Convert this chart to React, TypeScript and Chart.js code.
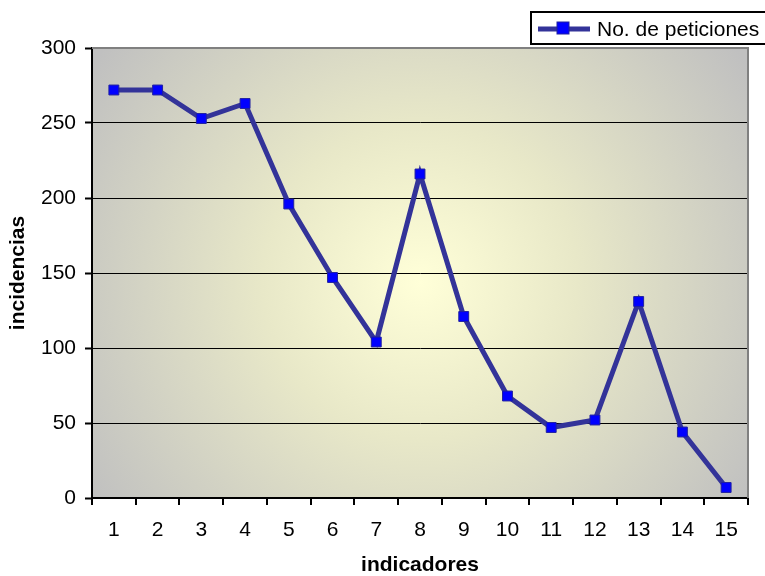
import React, { useEffect, useRef } from "react";
import { Chart, registerables } from "chart.js";

Chart.register(...registerables);

const categories = ["1", "2", "3", "4", "5", "6", "7", "8", "9", "10", "11", "12", "13", "14", "15"];
const peticiones = [272, 272, 253, 263, 196, 147, 104, 216, 121, 68, 47, 52, 131, 44, 7];
const seriesLabel = "No. de peticiones";
const yTitle = "incidencias";
const xTitle = "indicadores";

const bgPlugin = {
  id: "bgPlugin",
  beforeDraw(chart: any) {
    const { ctx, chartArea } = chart;
    const { left, top, right, bottom } = chartArea;
    const cx = left + (right - left) * 0.5;
    const cy = top + (bottom - top) * 0.52;
    const r = Math.max(right - left, bottom - top) * 0.6;
    const g = ctx.createRadialGradient(cx, cy, 0, cx, cy, r);
    g.addColorStop(0, "#FFFFD8");
    g.addColorStop(0.4, "#E8E8C8");
    g.addColorStop(1, "#C0C0C0");
    ctx.save();
    ctx.fillStyle = "#ffffff";
    ctx.fillRect(0, 0, chart.width, chart.height);
    ctx.fillStyle = g;
    ctx.fillRect(left, top, right - left, bottom - top);
    ctx.restore();
  },
  afterDatasetsDraw(chart: any) {
    const { ctx, chartArea } = chart;
    const { left, top, right, bottom } = chartArea;
    ctx.save();
    ctx.strokeStyle = "#808080";
    ctx.lineWidth = 2;
    ctx.beginPath();
    ctx.moveTo(left, top);
    ctx.lineTo(right, top);
    ctx.lineTo(right, bottom);
    ctx.stroke();
    ctx.restore();
  },
  afterDraw(chart: any) {
    const { ctx } = chart;
    ctx.save();
    ctx.fillStyle = "#ffffff";
    ctx.fillRect(531, 12, 240, 32);
    ctx.strokeStyle = "#000000";
    ctx.lineWidth = 2;
    ctx.strokeRect(531, 12, 240, 32);
    ctx.strokeStyle = "#333399";
    ctx.lineWidth = 5;
    ctx.beginPath();
    ctx.moveTo(538, 29);
    ctx.lineTo(590, 29);
    ctx.stroke();
    ctx.fillStyle = "#0000FF";
    ctx.fillRect(557, 22, 12, 12);
    ctx.strokeStyle = "#2020A0";
    ctx.lineWidth = 1;
    ctx.strokeRect(557, 22, 12, 12);
    ctx.fillStyle = "#000000";
    ctx.font = "21px 'Liberation Sans', Arial, sans-serif";
    ctx.textBaseline = "middle";
    ctx.textAlign = "left";
    ctx.fillText(chart.data.datasets[0].label, 597, 30);
    ctx.restore();
  },
};

export default function App() {
  const ref = useRef<HTMLCanvasElement>(null);
  useEffect(() => {
    document.body.style.margin = "0";
    const font = { family: "'Liberation Sans', Arial, sans-serif", size: 21 };
    const chart = new Chart(ref.current as HTMLCanvasElement, {
      type: "line",
      data: {
        labels: categories,
        datasets: [
          {
            label: seriesLabel,
            data: peticiones,
            borderColor: "#333399",
            borderWidth: 5,
            pointStyle: "rect",
            pointRadius: 7,
            pointBackgroundColor: "#0000FF",
            pointBorderColor: "#2020A0",
            pointBorderWidth: 1,
            tension: 0,
          },
        ],
      },
      options: {
        responsive: false,
        animation: false,
        layout: { padding: { left: 0, top: 48, right: 17, bottom: 0 } },
        plugins: { legend: { display: false }, tooltip: { enabled: false } },
        scales: {
          x: {
            offset: true,
            grid: { offset: true, drawOnChartArea: false, tickLength: 7, color: "#000000", lineWidth: 2 },
            border: { color: "#000000", width: 2 },
            ticks: { color: "#000000", font, padding: 13, maxRotation: 0 },
            title: { display: true, text: xTitle, color: "#000000", font: { ...font, size: 21, weight: "bold", lineHeight: 1.0 }, padding: { top: 0, bottom: 0 } },
            afterFit(scale: any) {
              scale.height = 78;
            },
          },
          y: {
            min: 0,
            max: 300,
            ticks: { stepSize: 50, color: "#000000", font, padding: 9 },
            grid: { color: "#000000", lineWidth: 1, tickLength: 7, tickColor: "#000000", tickWidth: 2 },
            border: { color: "#000000", width: 2 },
            title: { display: true, text: yTitle, color: "#000000", font: { ...font, size: 21, weight: "bold" }, padding: { top: 6, bottom: 4 } },
            afterFit(scale: any) {
              scale.width = 92;
            },
          },
        },
      },
      plugins: [bgPlugin],
    });
    return () => chart.destroy();
  }, []);
  return <canvas ref={ref} width={765} height={576} style={{ display: "block" }} />;
}
